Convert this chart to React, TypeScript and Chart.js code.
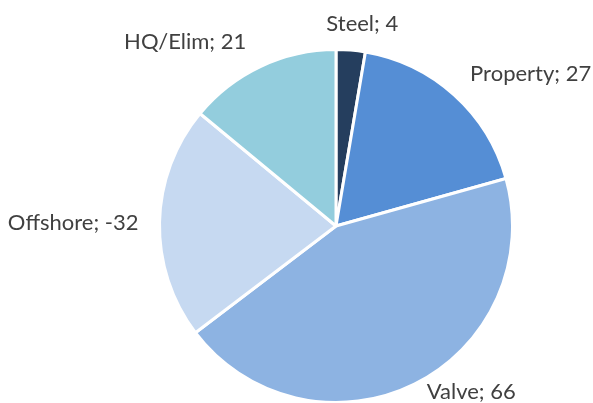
import React, { useEffect, useRef } from "react";
import { Chart, registerables } from "chart.js";

Chart.register(...registerables);

const categories = ["Steel", "Property", "Valve", "Offshore", "HQ/Elim"];
const values = [4, 27, 66, -32, 21];
const colors = ["#253E5E", "#558ED5", "#8DB3E2", "#C6D9F1", "#93CDDD"];
// label nudges (px) applied after default outside placement
const labelNudge: [number, number][] = [
  [7, 2],
  [24, 0],
  [29, -17],
  [-3, 1],
  [-42, 1],
];

const labelPlugin = {
  id: "outLabels",
  afterDatasetsDraw(chart: any) {
    const ctx = chart.ctx;
    const meta = chart.getDatasetMeta(0);
    ctx.save();
    ctx.font = "22px Lato";
    ctx.fillStyle = "#404040";
    ctx.textAlign = "center";
    ctx.textBaseline = "middle";
    meta.data.forEach((arc: any, i: number) => {
      const p = arc.getProps(["x", "y", "startAngle", "endAngle", "outerRadius"], true);
      const mid = (p.startAngle + p.endAngle) / 2;
      const c = Math.cos(mid);
      const s = Math.sin(mid);
      const text = `${categories[i]}; ${values[i]}`;
      const hw = ctx.measureText(text).width / 2;
      const hh = 10;
      const r = p.outerRadius + 18;
      const x = p.x + c * r + c * hw + labelNudge[i][0];
      const y = p.y + s * r + s * hh + labelNudge[i][1];
      ctx.fillText(text, x, y);
    });
    ctx.restore();
  },
};

export default function App() {
  const ref = useRef<HTMLCanvasElement>(null);
  useEffect(() => {
    if (!ref.current) return;
    const chart = new Chart(ref.current, {
      type: "pie",
      data: {
        labels: categories,
        datasets: [
          {
            data: values.map((v) => Math.abs(v)),
            backgroundColor: colors,
            borderColor: "#ffffff",
            borderWidth: 3,
          },
        ],
      },
      options: {
        animation: false,
        responsive: false,
        radius: 176.5,
        layout: { padding: { left: 79, right: 0, top: 49, bottom: 0 } },
        plugins: { legend: { display: false }, tooltip: { enabled: false } },
      },
      plugins: [labelPlugin],
    });
    return () => chart.destroy();
  }, []);
  return (
    <div style={{ position: "fixed", left: 0, top: 0, width: 593, height: 403, background: "#fff" }}>
      <canvas ref={ref} width={593} height={403} style={{ width: 593, height: 403 }} />
    </div>
  );
}
